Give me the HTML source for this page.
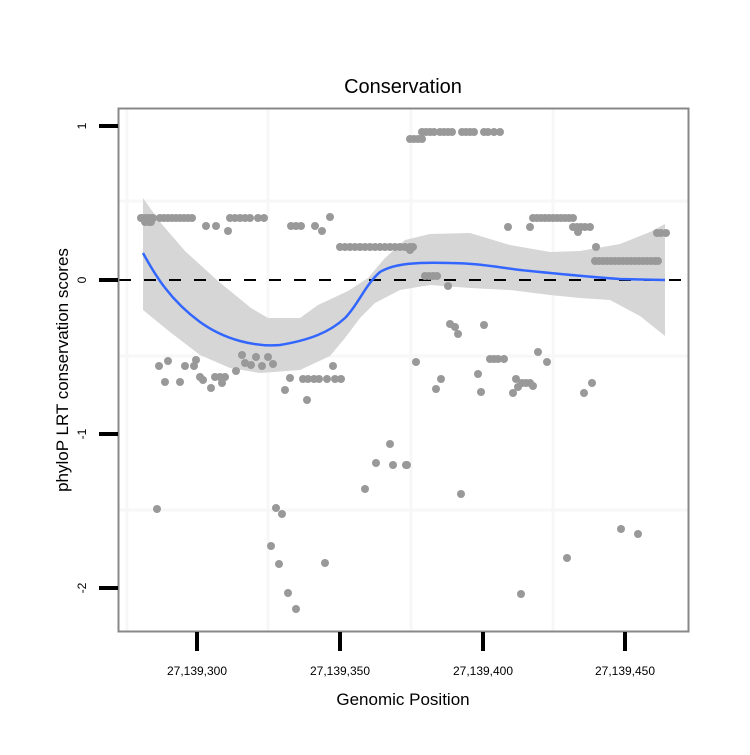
<!DOCTYPE html><html><head><style>body{margin:0;background:#fff}</style></head><body>
<svg width="750" height="750" xmlns="http://www.w3.org/2000/svg" font-family="Liberation Sans, sans-serif">
<rect width="750" height="750" fill="#fff"/>
<g stroke="#f7f7f7" stroke-width="3">
<line x1="127" y1="109" x2="127" y2="631"/><line x1="268" y1="109" x2="268" y2="631"/><line x1="411" y1="109" x2="411" y2="631"/><line x1="553" y1="109" x2="553" y2="631"/>
<line x1="119" y1="201" x2="688" y2="201"/><line x1="119" y1="356" x2="688" y2="356"/><line x1="119" y1="510" x2="688" y2="510"/>
</g>
<path d="M143,198 L160,222 L185,251 L218,281 L251,308 L268,318 L300,318 L318,305 L348,291 L368,278 L385,258 L405,240 L430,234 L470,233 L510,245 L550,252 L580,251 L620,244 L650,232 L665,224 L665,336 L640,316 L610,300 L580,298 L550,295 L510,290 L470,288 L430,285 L400,290 L375,303 L360,318 L345,338 L330,356 L300,370 L260,373 L230,368 L200,355 L170,332 L143,310 Z" fill="#d6d6d6"/>
<line x1="119" y1="280" x2="688" y2="280" stroke="#000" stroke-width="2" stroke-dasharray="12,13"/>
<g fill="#999">
<circle cx="141" cy="218" r="4"/><circle cx="144" cy="218" r="4"/><circle cx="147" cy="218" r="4"/><circle cx="150" cy="218" r="4"/><circle cx="153" cy="218" r="4"/><circle cx="145" cy="222" r="4"/><circle cx="149" cy="222" r="4"/><circle cx="151" cy="222" r="4"/>
<circle cx="160" cy="218" r="4"/><circle cx="164" cy="218" r="4"/><circle cx="168" cy="218" r="4"/><circle cx="172" cy="218" r="4"/><circle cx="176" cy="218" r="4"/><circle cx="180" cy="218" r="4"/><circle cx="184" cy="218" r="4"/><circle cx="188" cy="218" r="4"/><circle cx="192" cy="218" r="4"/>
<circle cx="206" cy="226" r="4"/><circle cx="216" cy="226" r="4"/><circle cx="228" cy="231" r="4"/><circle cx="230" cy="218" r="4"/><circle cx="235" cy="218" r="4"/><circle cx="240" cy="218" r="4"/><circle cx="245" cy="218" r="4"/><circle cx="250" cy="218" r="4"/><circle cx="258" cy="218" r="4"/><circle cx="264" cy="218" r="4"/>
<circle cx="291" cy="226" r="4"/><circle cx="296" cy="226" r="4"/><circle cx="301" cy="226" r="4"/><circle cx="315" cy="226" r="4"/><circle cx="322" cy="231" r="4"/><circle cx="330" cy="217" r="4"/>
<circle cx="340" cy="247" r="4"/><circle cx="345" cy="247" r="4"/><circle cx="350" cy="247" r="4"/><circle cx="355" cy="247" r="4"/><circle cx="360" cy="247" r="4"/><circle cx="365" cy="247" r="4"/><circle cx="370" cy="247" r="4"/><circle cx="375" cy="247" r="4"/><circle cx="380" cy="247" r="4"/><circle cx="385" cy="247" r="4"/><circle cx="390" cy="247" r="4"/><circle cx="395" cy="247" r="4"/><circle cx="400" cy="247" r="4"/><circle cx="405" cy="247" r="4"/><circle cx="410" cy="247" r="4"/><circle cx="413" cy="247" r="4"/><circle cx="410" cy="250" r="4"/>
<circle cx="410" cy="139" r="4"/><circle cx="414" cy="139" r="4"/><circle cx="418" cy="139" r="4"/><circle cx="422" cy="139" r="4"/><circle cx="422" cy="132" r="4"/><circle cx="426" cy="132" r="4"/><circle cx="430" cy="132" r="4"/><circle cx="434" cy="132" r="4"/><circle cx="440" cy="132" r="4"/><circle cx="444" cy="132" r="4"/><circle cx="448" cy="132" r="4"/><circle cx="452" cy="132" r="4"/><circle cx="462" cy="132" r="4"/><circle cx="466" cy="132" r="4"/><circle cx="470" cy="132" r="4"/><circle cx="474" cy="132" r="4"/><circle cx="484" cy="132" r="4"/><circle cx="488" cy="132" r="4"/><circle cx="494" cy="132" r="4"/><circle cx="500" cy="132" r="4"/>
<circle cx="533" cy="218" r="4"/><circle cx="537" cy="218" r="4"/><circle cx="541" cy="218" r="4"/><circle cx="545" cy="218" r="4"/><circle cx="549" cy="218" r="4"/><circle cx="553" cy="218" r="4"/><circle cx="557" cy="218" r="4"/><circle cx="561" cy="218" r="4"/><circle cx="565" cy="218" r="4"/><circle cx="569" cy="218" r="4"/><circle cx="573" cy="218" r="4"/>
<circle cx="508" cy="227" r="4"/><circle cx="530" cy="227" r="4"/><circle cx="573" cy="227" r="4"/><circle cx="577" cy="227" r="4"/><circle cx="581" cy="227" r="4"/><circle cx="585" cy="227" r="4"/><circle cx="590" cy="227" r="4"/><circle cx="578" cy="232" r="4"/><circle cx="657" cy="233" r="4"/><circle cx="661" cy="233" r="4"/><circle cx="666" cy="233" r="4"/><circle cx="596" cy="247" r="4"/>
<circle cx="595" cy="261" r="4"/><circle cx="599" cy="261" r="4"/><circle cx="603" cy="261" r="4"/><circle cx="607" cy="261" r="4"/><circle cx="611" cy="261" r="4"/><circle cx="615" cy="261" r="4"/><circle cx="619" cy="261" r="4"/><circle cx="623" cy="261" r="4"/><circle cx="627" cy="261" r="4"/><circle cx="631" cy="261" r="4"/><circle cx="635" cy="261" r="4"/><circle cx="639" cy="261" r="4"/><circle cx="643" cy="261" r="4"/><circle cx="647" cy="261" r="4"/><circle cx="651" cy="261" r="4"/><circle cx="655" cy="261" r="4"/><circle cx="658" cy="261" r="4"/>
<circle cx="425" cy="276" r="4"/><circle cx="429" cy="276" r="4"/><circle cx="433" cy="276" r="4"/><circle cx="437" cy="276" r="4"/><circle cx="448" cy="286" r="4"/><circle cx="450" cy="324" r="4"/><circle cx="455" cy="327" r="4"/><circle cx="458" cy="334" r="4"/><circle cx="484" cy="325" r="4"/><circle cx="538" cy="352" r="4"/><circle cx="416" cy="362" r="4"/><circle cx="490" cy="359" r="4"/><circle cx="494" cy="359" r="4"/><circle cx="498" cy="359" r="4"/><circle cx="504" cy="359" r="4"/><circle cx="547" cy="362" r="4"/>
<circle cx="159" cy="366" r="4"/><circle cx="168" cy="361" r="4"/><circle cx="185" cy="366" r="4"/><circle cx="194" cy="366" r="4"/><circle cx="196" cy="360" r="4"/><circle cx="200" cy="377" r="4"/><circle cx="203" cy="380" r="4"/><circle cx="215" cy="377" r="4"/><circle cx="220" cy="377" r="4"/><circle cx="225" cy="377" r="4"/><circle cx="222" cy="383" r="4"/><circle cx="165" cy="382" r="4"/><circle cx="180" cy="382" r="4"/><circle cx="211" cy="388" r="4"/><circle cx="236" cy="371" r="4"/><circle cx="242" cy="355" r="4"/><circle cx="245" cy="363" r="4"/><circle cx="251" cy="365" r="4"/><circle cx="256" cy="357" r="4"/><circle cx="262" cy="366" r="4"/><circle cx="268" cy="357" r="4"/><circle cx="273" cy="364" r="4"/><circle cx="290" cy="378" r="4"/><circle cx="285" cy="390" r="4"/><circle cx="303" cy="379" r="4"/><circle cx="308" cy="379" r="4"/><circle cx="314" cy="379" r="4"/><circle cx="319" cy="379" r="4"/><circle cx="327" cy="379" r="4"/><circle cx="335" cy="379" r="4"/><circle cx="341" cy="379" r="4"/><circle cx="307" cy="400" r="4"/><circle cx="333" cy="366" r="4"/>
<circle cx="390" cy="444" r="4"/><circle cx="376" cy="463" r="4"/><circle cx="393" cy="465" r="4"/><circle cx="406" cy="465" r="4"/><circle cx="365" cy="489" r="4"/><circle cx="157" cy="509" r="4"/><circle cx="276" cy="508" r="4"/><circle cx="282" cy="514" r="4"/><circle cx="271" cy="546" r="4"/><circle cx="279" cy="564" r="4"/><circle cx="325" cy="563" r="4"/><circle cx="288" cy="593" r="4"/><circle cx="296" cy="609" r="4"/>
<circle cx="478" cy="374" r="4"/><circle cx="441" cy="379" r="4"/><circle cx="436" cy="389" r="4"/><circle cx="481" cy="392" r="4"/><circle cx="516" cy="379" r="4"/><circle cx="518" cy="387" r="4"/><circle cx="522" cy="383" r="4"/><circle cx="526" cy="383" r="4"/><circle cx="530" cy="383" r="4"/><circle cx="533" cy="386" r="4"/><circle cx="513" cy="393" r="4"/><circle cx="592" cy="383" r="4"/><circle cx="584" cy="393" r="4"/><circle cx="407" cy="465" r="4"/><circle cx="461" cy="494" r="4"/><circle cx="621" cy="529" r="4"/><circle cx="638" cy="534" r="4"/><circle cx="567" cy="558" r="4"/><circle cx="521" cy="594" r="4"/>
</g>
<path d="M143,253 C155,275 170,300 200,322 C225,340 255,347 280,345 C310,340 330,332 345,318 C358,305 365,285 380,272 C395,263 420,262 450,263 C480,263 500,268 530,271 C560,274 590,277 620,279 L665,280" fill="none" stroke="#3366ff" stroke-width="2.5"/>
<rect x="118.5" y="108.5" width="570" height="523" fill="none" stroke="#888" stroke-width="2"/>
<g stroke="#000" stroke-width="4">
<line x1="99" y1="126" x2="118" y2="126"/><line x1="99" y1="280" x2="118" y2="280"/><line x1="99" y1="434" x2="118" y2="434"/><line x1="99" y1="588" x2="118" y2="588"/>
<line x1="197" y1="632" x2="197" y2="651"/><line x1="340" y1="632" x2="340" y2="651"/><line x1="483" y1="632" x2="483" y2="651"/><line x1="625" y1="632" x2="625" y2="651"/>
</g>
<g font-size="12" text-anchor="middle" fill="#000">
<text transform="translate(86,126) rotate(-90)">1</text>
<text transform="translate(86,280) rotate(-90)">0</text>
<text transform="translate(86,434) rotate(-90)">-1</text>
<text transform="translate(86,588) rotate(-90)">-2</text>
<text x="197" y="675">27,139,300</text><text x="340" y="675">27,139,350</text><text x="483" y="675">27,139,400</text><text x="625" y="675">27,139,450</text>
</g>
<text x="403" y="93" font-size="20" text-anchor="middle">Conservation</text>
<text x="403" y="705" font-size="17" text-anchor="middle">Genomic Position</text>
<text transform="translate(68,370) rotate(-90)" font-size="17" text-anchor="middle">phyloP LRT conservation scores</text>
</svg>
</body></html>
